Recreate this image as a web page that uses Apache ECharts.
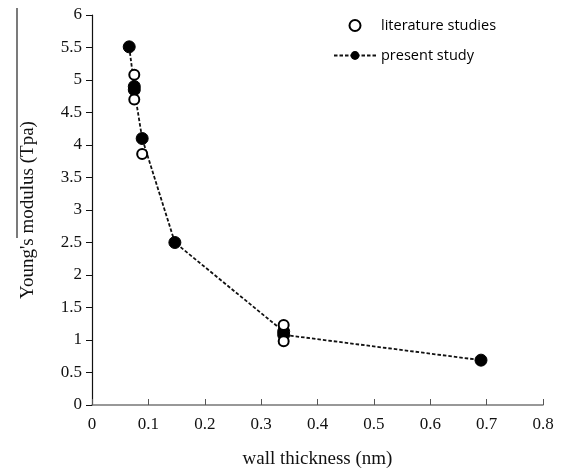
<!DOCTYPE html>
<html><head><meta charset="utf-8">
<script src="https://cdn.jsdelivr.net/npm/echarts@6/dist/echarts.min.js"></script>
<style>html,body{margin:0;padding:0;background:#fff}#c{width:568px;height:474px}</style>
</head><body><div id="c"></div>
<script>
const literatureX = [0.075, 0.075, 0.089, 0.34, 0.34];
const literatureY = [5.08, 4.70, 3.86, 1.23, 0.98];
const presentX = [0.066, 0.075, 0.075, 0.089, 0.147, 0.34, 0.34, 0.69];
const presentY = [5.51, 4.90, 4.85, 4.10, 2.50, 1.13, 1.08, 0.69];
const xTicks = [0, 0.1, 0.2, 0.3, 0.4, 0.5, 0.6, 0.7, 0.8];
const yTicks = [0, 0.5, 1, 1.5, 2, 2.5, 3, 3.5, 4, 4.5, 5, 5.5, 6];

const chart = echarts.init(document.getElementById('c'));
const serif = 'Liberation Serif, Times New Roman, serif';
chart.setOption({
  animation: false,
  grid: {left: 92, right: 25, top: 15, bottom: 69, containLabel: false, outerBoundsMode: 'none'},
  legend: {
    orient: 'vertical', left: 328, top: 13, itemWidth: 42, itemHeight: 11, itemGap: 15,
    textStyle: {fontFamily: 'Open Sans, sans-serif', fontSize: 14.5, color: '#000'},
    data: ['literature studies', 'present study']
  },
  xAxis: {
    type: 'value', min: xTicks[0], max: xTicks[xTicks.length - 1], interval: 0.1,
    splitLine: {show: false},
    axisLine: {lineStyle: {color: '#777', width: 1.5}},
    axisTick: {inside: true, length: 6, lineStyle: {color: '#555'}},
    axisLabel: {fontFamily: serif, fontSize: 17, color: '#111', margin: 11},
    name: 'wall thickness (nm)', nameLocation: 'middle', nameGap: 45,
    nameTextStyle: {fontFamily: serif, fontSize: 19, color: '#111'}
  },
  yAxis: {
    type: 'value', min: yTicks[0], max: yTicks[yTicks.length - 1], interval: 0.5,
    splitLine: {show: false},
    axisLine: {onZero: false, lineStyle: {color: '#111', width: 1.2}},
    axisTick: {length: 6, lineStyle: {color: '#111'}},
    axisLabel: {fontFamily: serif, fontSize: 17, color: '#111', margin: 10},
    name: "Young's modulus (Tpa)", nameLocation: 'middle', nameGap: 54,
    nameTextStyle: {fontFamily: serif, fontSize: 19, color: '#111'}
  },
  graphic: [{
    type: 'line', shape: {x1: 17, y1: 8, x2: 17, y2: 238},
    style: {stroke: '#222', lineWidth: 1.2}
  }],
  series: [
    {
      name: 'present study', type: 'line', z: 2,
      data: presentX.map((x, i) => [x, presentY[i]]),
      symbol: 'circle', symbolSize: 12,
      lineStyle: {color: '#111', width: 1.8, type: [3.5, 2]},
      itemStyle: {color: '#000', borderColor: '#000'}
    },
    {
      name: 'literature studies', type: 'scatter', z: 3,
      data: literatureX.map((x, i) => [x, literatureY[i]]),
      symbol: 'circle', symbolSize: 10,
      itemStyle: {color: '#fff', borderColor: '#000', borderWidth: 2, opacity: 1}
    }
  ]
});
</script></body></html>
